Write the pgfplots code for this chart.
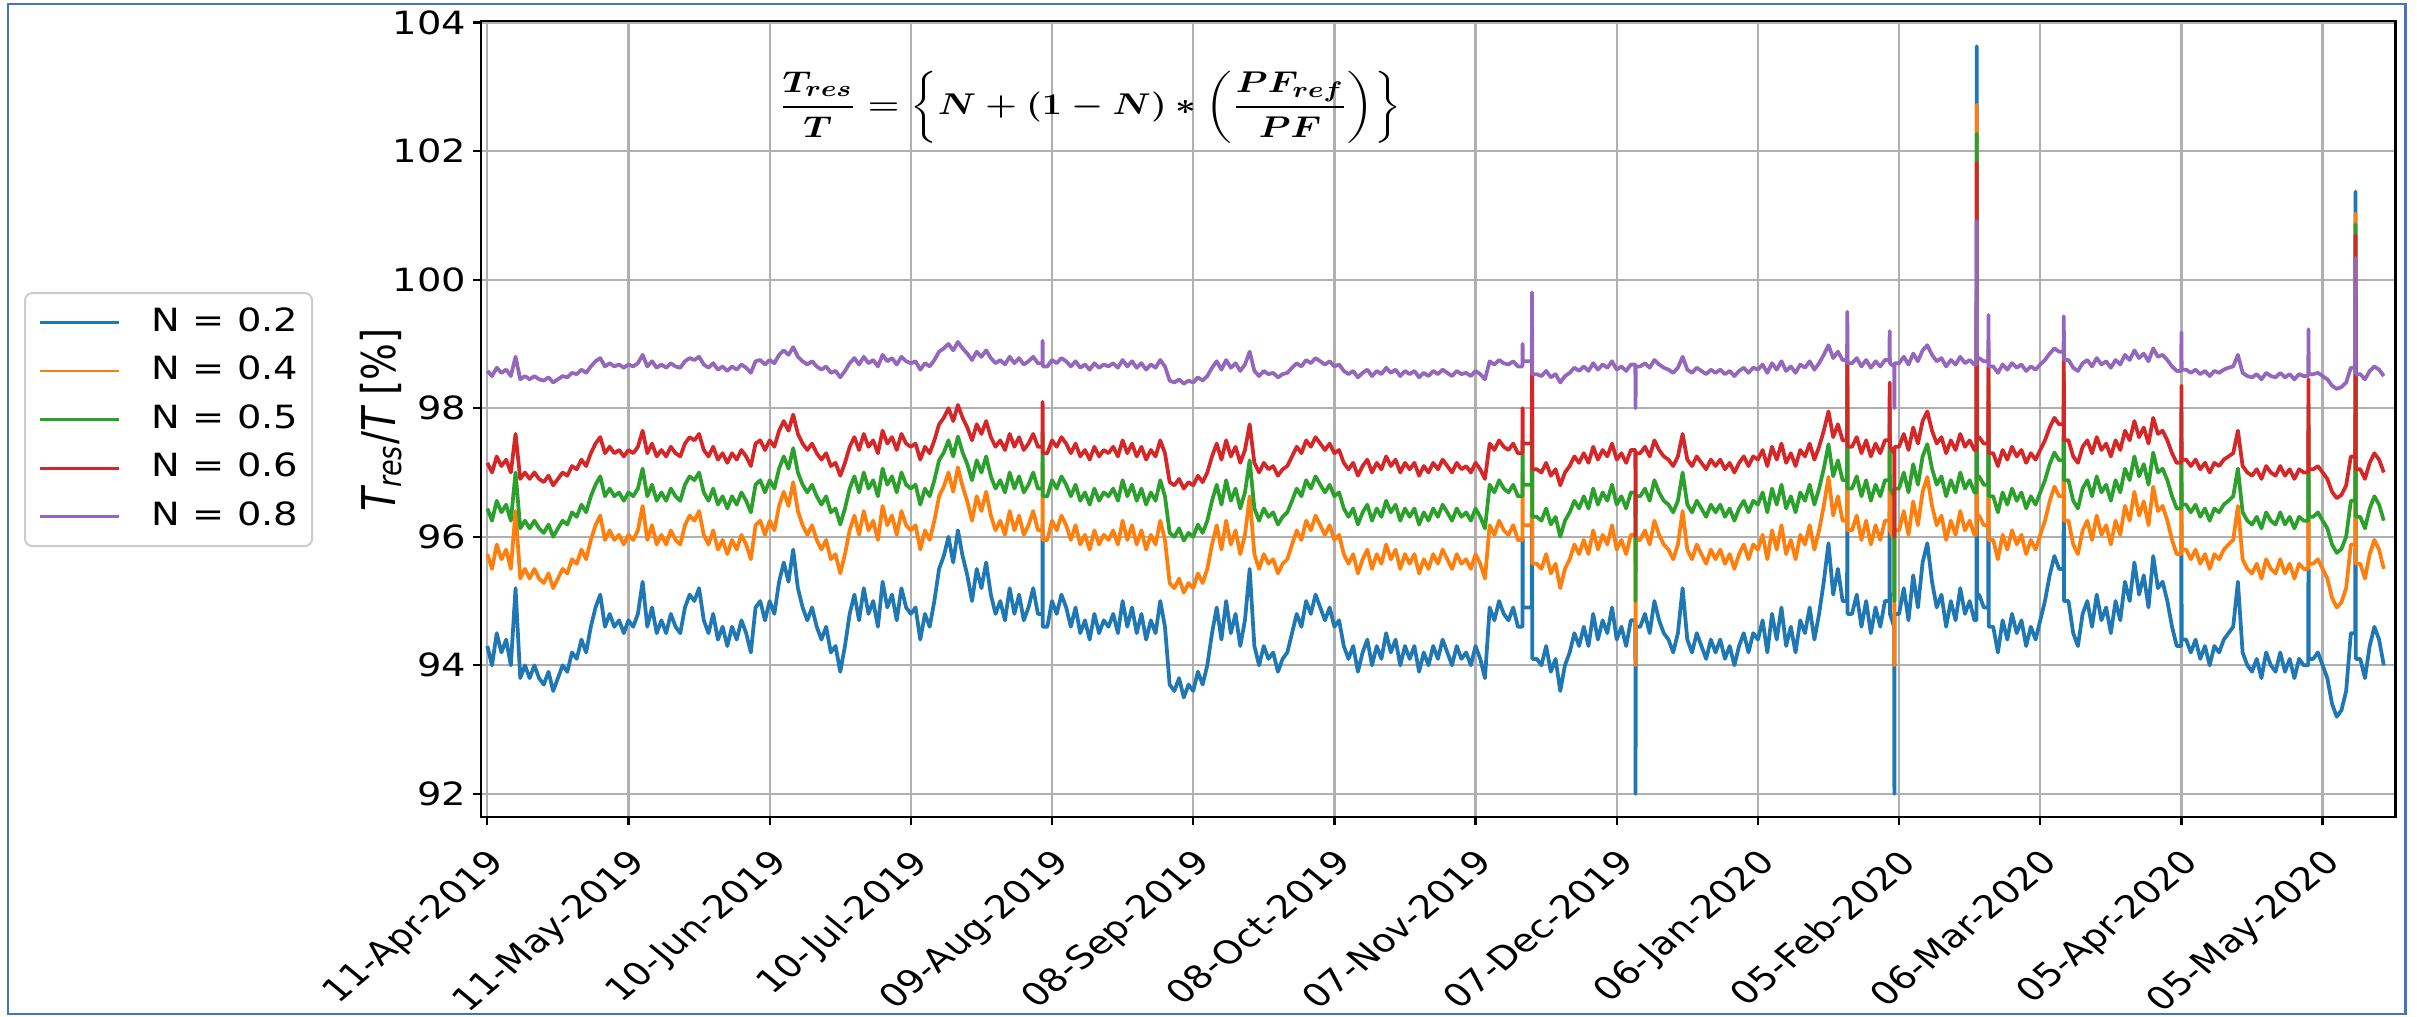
\documentclass[border=0pt]{standalone}
\usepackage{fontspec}
\setmainfont{DejaVu Sans}
\newfontfamily\stretchfont{DejaVu Sans}[FakeStretch=1.2]
\usepackage{amsmath}
\usepackage{pgfplots}
\pgfplotsset{compat=1.18}
\usepackage{pgfplotstable}
\definecolor{c0}{HTML}{1F77B4}
\definecolor{c1}{HTML}{FF7F0E}
\definecolor{c2}{HTML}{2CA02C}
\definecolor{c3}{HTML}{D62728}
\definecolor{c4}{HTML}{9467BD}
\definecolor{frameblue}{HTML}{4472C4}
\definecolor{gridgray}{HTML}{B0B0B0}
\newcommand{\formulatext}{{\boldmath$\displaystyle\frac{T_{res}}{T}=\left\{N+(1-N)\ast\left(\frac{PF_{ref}}{PF}\right)\right\}$}}

\pgfplotstableread{
d b o g r p
0 94.3 95.73 96.44 97.15 98.58
1 94.0 95.50 96.25 97.00 98.50
2 94.5 95.88 96.56 97.25 98.63
3 94.2 95.65 96.38 97.10 98.55
4 94.4 95.80 96.50 97.20 98.60
5 94.0 95.50 96.25 97.00 98.50
6 95.2 96.40 97.00 97.60 98.80
7 93.8 95.35 96.13 96.90 98.45
8 94.0 95.50 96.25 97.00 98.50
9 93.8 95.35 96.13 96.90 98.45
10 94.0 95.50 96.25 97.00 98.50
11 93.8 95.35 96.13 96.90 98.45
12 93.7 95.28 96.06 96.85 98.43
13 93.9 95.43 96.19 96.95 98.48
14 93.6 95.20 96.00 96.80 98.40
15 93.8 95.35 96.13 96.90 98.45
16 94.0 95.50 96.25 97.00 98.50
17 93.9 95.43 96.19 96.95 98.48
18 94.2 95.65 96.38 97.10 98.55
19 94.1 95.58 96.31 97.05 98.53
20 94.4 95.80 96.50 97.20 98.60
21 94.2 95.65 96.38 97.10 98.55
22 94.6 95.95 96.63 97.30 98.65
23 94.9 96.18 96.81 97.45 98.73
24 95.1 96.33 96.94 97.55 98.78
25 94.6 95.95 96.63 97.30 98.65
26 94.8 96.10 96.75 97.40 98.70
27 94.6 95.95 96.63 97.30 98.65
28 94.7 96.03 96.69 97.35 98.68
29 94.5 95.88 96.56 97.25 98.63
30 94.7 96.03 96.69 97.35 98.68
31 94.6 95.95 96.63 97.30 98.65
32 94.8 96.10 96.75 97.40 98.70
33 95.3 96.48 97.06 97.65 98.83
34 94.6 95.95 96.63 97.30 98.65
35 94.9 96.18 96.81 97.45 98.73
36 94.5 95.88 96.56 97.25 98.63
37 94.7 96.03 96.69 97.35 98.68
38 94.5 95.88 96.56 97.25 98.63
39 94.8 96.10 96.75 97.40 98.70
40 94.6 95.95 96.63 97.30 98.65
41 94.5 95.88 96.56 97.25 98.63
42 94.9 96.18 96.81 97.45 98.73
43 95.1 96.33 96.94 97.55 98.78
44 95.0 96.25 96.88 97.50 98.75
45 95.2 96.40 97.00 97.60 98.80
46 94.7 96.03 96.69 97.35 98.68
47 94.5 95.88 96.56 97.25 98.63
48 94.8 96.10 96.75 97.40 98.70
49 94.4 95.80 96.50 97.20 98.60
50 94.6 95.95 96.63 97.30 98.65
51 94.3 95.73 96.44 97.15 98.58
52 94.6 95.95 96.63 97.30 98.65
53 94.4 95.80 96.50 97.20 98.60
54 94.7 96.03 96.69 97.35 98.68
55 94.5 95.88 96.56 97.25 98.63
56 94.2 95.65 96.38 97.10 98.55
57 94.9 96.18 96.81 97.45 98.73
58 95.0 96.25 96.88 97.50 98.75
59 94.7 96.03 96.69 97.35 98.68
60 95.0 96.25 96.88 97.50 98.75
61 94.8 96.10 96.75 97.40 98.70
62 95.3 96.48 97.06 97.65 98.83
63 95.6 96.70 97.25 97.80 98.90
64 95.3 96.48 97.06 97.65 98.83
65 95.8 96.85 97.38 97.90 98.95
66 95.2 96.40 97.00 97.60 98.80
67 94.9 96.18 96.81 97.45 98.73
68 94.7 96.03 96.69 97.35 98.68
69 94.9 96.18 96.81 97.45 98.73
70 94.6 95.95 96.63 97.30 98.65
71 94.4 95.80 96.50 97.20 98.60
72 94.6 95.95 96.63 97.30 98.65
73 94.2 95.65 96.38 97.10 98.55
74 94.3 95.73 96.44 97.15 98.58
75 93.9 95.43 96.19 96.95 98.48
76 94.3 95.73 96.44 97.15 98.58
77 94.8 96.10 96.75 97.40 98.70
78 95.1 96.33 96.94 97.55 98.78
79 94.7 96.03 96.69 97.35 98.68
80 95.2 96.40 97.00 97.60 98.80
81 94.8 96.10 96.75 97.40 98.70
82 95.0 96.25 96.88 97.50 98.75
83 94.6 95.95 96.63 97.30 98.65
84 95.3 96.48 97.06 97.65 98.83
85 94.9 96.18 96.81 97.45 98.73
86 95.1 96.33 96.94 97.55 98.78
87 94.7 96.03 96.69 97.35 98.68
88 95.2 96.40 97.00 97.60 98.80
89 94.9 96.18 96.81 97.45 98.73
90 94.8 96.10 96.75 97.40 98.70
91 94.9 96.18 96.81 97.45 98.73
92 94.4 95.80 96.50 97.20 98.60
93 94.8 96.10 96.75 97.40 98.70
94 94.6 95.95 96.63 97.30 98.65
95 95.0 96.25 96.88 97.50 98.75
96 95.5 96.63 97.19 97.75 98.88
97 95.7 96.78 97.31 97.85 98.93
98 96.0 97.00 97.50 98.00 99.00
99 95.6 96.70 97.25 97.80 98.90
100 96.1 97.08 97.56 98.05 99.03
101 95.7 96.78 97.31 97.85 98.93
102 95.4 96.55 97.13 97.70 98.85
103 95.0 96.25 96.88 97.50 98.75
104 95.5 96.63 97.19 97.75 98.88
105 95.2 96.40 97.00 97.60 98.80
106 95.6 96.70 97.25 97.80 98.90
107 95.1 96.33 96.94 97.55 98.78
108 94.8 96.10 96.75 97.40 98.70
109 95.0 96.25 96.88 97.50 98.75
110 94.7 96.03 96.69 97.35 98.68
111 95.2 96.40 97.00 97.60 98.80
112 94.8 96.10 96.75 97.40 98.70
113 95.1 96.33 96.94 97.55 98.78
114 94.7 96.03 96.69 97.35 98.68
115 94.9 96.18 96.81 97.45 98.73
116 95.2 96.40 97.00 97.60 98.80
117 94.8 96.10 96.75 97.40 98.70
117.95 94.8 96.10 96.75 97.40 98.70
118 96.2 97.15 97.63 98.10 99.05
118.05 94.6 95.95 96.63 97.30 98.65
119 94.6 95.95 96.63 97.30 98.65
120 95.0 96.25 96.88 97.50 98.75
121 94.8 96.10 96.75 97.40 98.70
122 95.1 96.33 96.94 97.55 98.78
123 94.9 96.18 96.81 97.45 98.73
124 94.6 95.95 96.63 97.30 98.65
125 94.9 96.18 96.81 97.45 98.73
126 94.5 95.88 96.56 97.25 98.63
127 94.7 96.03 96.69 97.35 98.68
128 94.4 95.80 96.50 97.20 98.60
129 94.8 96.10 96.75 97.40 98.70
130 94.5 95.88 96.56 97.25 98.63
131 94.7 96.03 96.69 97.35 98.68
132 94.6 95.95 96.63 97.30 98.65
133 94.8 96.10 96.75 97.40 98.70
134 94.5 95.88 96.56 97.25 98.63
135 95.0 96.25 96.88 97.50 98.75
136 94.6 95.95 96.63 97.30 98.65
137 94.9 96.18 96.81 97.45 98.73
138 94.5 95.88 96.56 97.25 98.63
139 94.8 96.10 96.75 97.40 98.70
140 94.4 95.80 96.50 97.20 98.60
141 94.7 96.03 96.69 97.35 98.68
142 94.5 95.88 96.56 97.25 98.63
143 95.0 96.25 96.88 97.50 98.75
144 94.6 95.95 96.63 97.30 98.65
145 93.7 95.28 96.06 96.85 98.43
146 93.6 95.20 96.00 96.80 98.40
147 93.8 95.35 96.13 96.90 98.45
148 93.5 95.13 95.94 96.75 98.38
149 93.7 95.28 96.06 96.85 98.43
150 93.6 95.20 96.00 96.80 98.40
151 93.9 95.43 96.19 96.95 98.48
152 93.7 95.28 96.06 96.85 98.43
153 94.0 95.50 96.25 97.00 98.50
154 94.5 95.88 96.56 97.25 98.63
155 94.9 96.18 96.81 97.45 98.73
156 94.4 95.80 96.50 97.20 98.60
157 95.0 96.25 96.88 97.50 98.75
158 94.5 95.88 96.56 97.25 98.63
159 94.8 96.10 96.75 97.40 98.70
160 94.3 95.73 96.44 97.15 98.58
161 94.7 96.03 96.69 97.35 98.68
162 95.5 96.63 97.19 97.75 98.88
163 94.3 95.73 96.44 97.15 98.58
164 94.0 95.50 96.25 97.00 98.50
165 94.3 95.73 96.44 97.15 98.58
166 94.1 95.58 96.31 97.05 98.53
167 94.2 95.65 96.38 97.10 98.55
168 93.9 95.43 96.19 96.95 98.48
169 94.1 95.58 96.31 97.05 98.53
170 94.2 95.65 96.38 97.10 98.55
171 94.5 95.88 96.56 97.25 98.63
172 94.8 96.10 96.75 97.40 98.70
173 94.6 95.95 96.63 97.30 98.65
174 95.0 96.25 96.88 97.50 98.75
175 94.8 96.10 96.75 97.40 98.70
176 95.1 96.33 96.94 97.55 98.78
177 94.9 96.18 96.81 97.45 98.73
178 94.7 96.03 96.69 97.35 98.68
179 94.9 96.18 96.81 97.45 98.73
180 94.6 95.95 96.63 97.30 98.65
181 94.7 96.03 96.69 97.35 98.68
182 94.3 95.73 96.44 97.15 98.58
183 94.1 95.58 96.31 97.05 98.53
184 94.3 95.73 96.44 97.15 98.58
185 93.9 95.43 96.19 96.95 98.48
186 94.2 95.65 96.38 97.10 98.55
187 94.4 95.80 96.50 97.20 98.60
188 94.0 95.50 96.25 97.00 98.50
189 94.3 95.73 96.44 97.15 98.58
190 94.1 95.58 96.31 97.05 98.53
191 94.5 95.88 96.56 97.25 98.63
192 94.2 95.65 96.38 97.10 98.55
193 94.4 95.80 96.50 97.20 98.60
194 94.0 95.50 96.25 97.00 98.50
195 94.3 95.73 96.44 97.15 98.58
196 94.1 95.58 96.31 97.05 98.53
197 94.3 95.73 96.44 97.15 98.58
198 93.9 95.43 96.19 96.95 98.48
199 94.2 95.65 96.38 97.10 98.55
200 94.0 95.50 96.25 97.00 98.50
201 94.3 95.73 96.44 97.15 98.58
202 94.1 95.58 96.31 97.05 98.53
203 94.4 95.80 96.50 97.20 98.60
204 94.2 95.65 96.38 97.10 98.55
205 94.0 95.50 96.25 97.00 98.50
206 94.3 95.73 96.44 97.15 98.58
207 94.1 95.58 96.31 97.05 98.53
208 94.2 95.65 96.38 97.10 98.55
209 94.0 95.50 96.25 97.00 98.50
210 94.3 95.73 96.44 97.15 98.58
211 94.1 95.58 96.31 97.05 98.53
212 93.8 95.35 96.13 96.90 98.45
213 94.9 96.18 96.81 97.45 98.73
214 94.7 96.03 96.69 97.35 98.68
215 95.0 96.25 96.88 97.50 98.75
216 94.8 96.10 96.75 97.40 98.70
217 94.7 96.03 96.69 97.35 98.68
218 94.9 96.18 96.81 97.45 98.73
219 94.6 95.95 96.63 97.30 98.65
219.95 94.6 95.95 96.63 97.30 98.65
220 96.0 97.00 97.50 98.00 99.00
220.05 94.9 96.18 96.81 97.45 98.73
221 94.9 96.18 96.81 97.45 98.73
221.95 94.9 96.18 96.81 97.45 98.73
222 99.2 99.40 99.50 99.60 99.80
222.05 94.1 95.58 96.31 97.05 98.53
223 94.1 95.58 96.31 97.05 98.53
224 94.0 95.50 96.25 97.00 98.50
225 94.3 95.73 96.44 97.15 98.58
226 93.9 95.43 96.19 96.95 98.48
227 94.1 95.58 96.31 97.05 98.53
228 93.6 95.20 96.00 96.80 98.40
229 94.0 95.50 96.25 97.00 98.50
230 94.2 95.65 96.38 97.10 98.55
231 94.5 95.88 96.56 97.25 98.63
232 94.3 95.73 96.44 97.15 98.58
233 94.6 95.95 96.63 97.30 98.65
234 94.3 95.73 96.44 97.15 98.58
235 94.8 96.10 96.75 97.40 98.70
236 94.4 95.80 96.50 97.20 98.60
237 94.7 96.03 96.69 97.35 98.68
238 94.5 95.88 96.56 97.25 98.63
239 94.9 96.18 96.81 97.45 98.73
240 94.4 95.80 96.50 97.20 98.60
241 94.6 95.95 96.63 97.30 98.65
242 94.3 95.73 96.44 97.15 98.58
243 94.7 96.03 96.69 97.35 98.68
243.95 94.7 96.03 96.69 97.35 98.68
244 92.0 94.00 95.00 96.00 98.00
244.05 94.6 95.95 96.63 97.30 98.65
245 94.6 95.95 96.63 97.30 98.65
246 94.8 96.10 96.75 97.40 98.70
247 94.5 95.88 96.56 97.25 98.63
248 95.0 96.25 96.88 97.50 98.75
249 94.7 96.03 96.69 97.35 98.68
250 94.5 95.88 96.56 97.25 98.63
251 94.4 95.80 96.50 97.20 98.60
252 94.2 95.65 96.38 97.10 98.55
253 94.5 95.88 96.56 97.25 98.63
254 95.2 96.40 97.00 97.60 98.80
255 94.4 95.80 96.50 97.20 98.60
256 94.2 95.65 96.38 97.10 98.55
257 94.5 95.88 96.56 97.25 98.63
258 94.3 95.73 96.44 97.15 98.58
259 94.1 95.58 96.31 97.05 98.53
260 94.4 95.80 96.50 97.20 98.60
261 94.2 95.65 96.38 97.10 98.55
262 94.4 95.80 96.50 97.20 98.60
263 94.1 95.58 96.31 97.05 98.53
264 94.3 95.73 96.44 97.15 98.58
265 94.0 95.50 96.25 97.00 98.50
266 94.3 95.73 96.44 97.15 98.58
267 94.5 95.88 96.56 97.25 98.63
268 94.2 95.65 96.38 97.10 98.55
269 94.5 95.88 96.56 97.25 98.63
270 94.4 95.80 96.50 97.20 98.60
271 94.7 96.03 96.69 97.35 98.68
272 94.2 95.65 96.38 97.10 98.55
273 94.8 96.10 96.75 97.40 98.70
274 94.4 95.80 96.50 97.20 98.60
275 94.9 96.18 96.81 97.45 98.73
276 94.3 95.73 96.44 97.15 98.58
277 94.6 95.95 96.63 97.30 98.65
278 94.2 95.65 96.38 97.10 98.55
279 94.7 96.03 96.69 97.35 98.68
280 94.5 95.88 96.56 97.25 98.63
281 94.9 96.18 96.81 97.45 98.73
282 94.4 95.80 96.50 97.20 98.60
283 94.8 96.10 96.75 97.40 98.70
284 95.3 96.48 97.06 97.65 98.83
285 95.9 96.93 97.44 97.95 98.98
286 95.1 96.33 96.94 97.55 98.78
287 95.5 96.63 97.19 97.75 98.88
288 95.0 96.25 96.88 97.50 98.75
288.95 95.0 96.25 96.88 97.50 98.75
289 98.0 98.50 98.75 99.00 99.50
289.05 94.8 96.10 96.75 97.40 98.70
290 94.8 96.10 96.75 97.40 98.70
291 95.1 96.33 96.94 97.55 98.78
292 94.6 95.95 96.63 97.30 98.65
293 95.0 96.25 96.88 97.50 98.75
294 94.5 95.88 96.56 97.25 98.63
295 94.9 96.18 96.81 97.45 98.73
296 94.6 95.95 96.63 97.30 98.65
297 95.0 96.25 96.88 97.50 98.75
297.95 95.0 96.25 96.88 97.50 98.75
298 96.8 97.60 98.00 98.40 99.20
298.05 94.8 96.10 96.75 97.40 98.70
298.95 94.6 95.95 96.63 97.30 98.65
299 92.0 94.00 95.00 96.00 98.00
299.05 94.8 96.10 96.75 97.40 98.70
300 94.8 96.10 96.75 97.40 98.70
301 95.2 96.40 97.00 97.60 98.80
302 94.7 96.03 96.69 97.35 98.68
303 95.4 96.55 97.13 97.70 98.85
304 94.9 96.18 96.81 97.45 98.73
305 95.6 96.70 97.25 97.80 98.90
306 95.9 96.93 97.44 97.95 98.98
307 95.3 96.48 97.06 97.65 98.83
308 94.9 96.18 96.81 97.45 98.73
309 95.1 96.33 96.94 97.55 98.78
310 94.6 95.95 96.63 97.30 98.65
311 95.0 96.25 96.88 97.50 98.75
312 94.7 96.03 96.69 97.35 98.68
313 95.2 96.40 97.00 97.60 98.80
314 94.8 96.10 96.75 97.40 98.70
315 95.0 96.25 96.88 97.50 98.75
316 94.7 96.03 96.69 97.35 98.68
316.45 94.7 96.03 96.69 97.35 98.68
316.5 103.63 102.72 102.27 101.82 100.91
316.55 95.1 96.33 96.94 97.55 98.78
317 95.1 96.33 96.94 97.55 98.78
318 94.9 96.18 96.81 97.45 98.73
318.95 94.9 96.18 96.81 97.45 98.73
319 97.8 98.35 98.63 98.90 99.45
319.05 94.6 95.95 96.63 97.30 98.65
320 94.6 95.95 96.63 97.30 98.65
321 94.2 95.65 96.38 97.10 98.55
322 94.7 96.03 96.69 97.35 98.68
323 94.4 95.80 96.50 97.20 98.60
324 94.8 96.10 96.75 97.40 98.70
325 94.5 95.88 96.56 97.25 98.63
326 94.7 96.03 96.69 97.35 98.68
327 94.3 95.73 96.44 97.15 98.58
328 94.6 95.95 96.63 97.30 98.65
329 94.4 95.80 96.50 97.20 98.60
330 94.7 96.03 96.69 97.35 98.68
331 95.0 96.25 96.88 97.50 98.75
332 95.4 96.55 97.13 97.70 98.85
333 95.7 96.78 97.31 97.85 98.93
334 95.5 96.63 97.19 97.75 98.88
334.95 95.5 96.63 97.19 97.75 98.88
335 97.7 98.28 98.56 98.85 99.43
335.05 95.0 96.25 96.88 97.50 98.75
336 95.0 96.25 96.88 97.50 98.75
337 94.5 95.88 96.56 97.25 98.63
338 94.3 95.73 96.44 97.15 98.58
339 94.8 96.10 96.75 97.40 98.70
340 95.0 96.25 96.88 97.50 98.75
341 94.6 95.95 96.63 97.30 98.65
342 95.1 96.33 96.94 97.55 98.78
343 94.7 96.03 96.69 97.35 98.68
344 94.9 96.18 96.81 97.45 98.73
345 94.5 95.88 96.56 97.25 98.63
346 95.0 96.25 96.88 97.50 98.75
347 94.7 96.03 96.69 97.35 98.68
348 95.3 96.48 97.06 97.65 98.83
349 95.0 96.25 96.88 97.50 98.75
350 95.6 96.70 97.25 97.80 98.90
351 95.1 96.33 96.94 97.55 98.78
352 95.4 96.55 97.13 97.70 98.85
353 94.9 96.18 96.81 97.45 98.73
354 95.7 96.78 97.31 97.85 98.93
355 95.2 96.40 97.00 97.60 98.80
356 95.3 96.48 97.06 97.65 98.83
357 95.0 96.25 96.88 97.50 98.75
358 94.6 95.95 96.63 97.30 98.65
359 94.3 95.73 96.44 97.15 98.58
359.95 94.3 95.73 96.44 97.15 98.58
360 96.7 97.53 97.94 98.35 99.18
360.05 94.4 95.80 96.50 97.20 98.60
361 94.4 95.80 96.50 97.20 98.60
362 94.2 95.65 96.38 97.10 98.55
363 94.4 95.80 96.50 97.20 98.60
364 94.1 95.58 96.31 97.05 98.53
365 94.3 95.73 96.44 97.15 98.58
366 94.0 95.50 96.25 97.00 98.50
367 94.3 95.73 96.44 97.15 98.58
368 94.2 95.65 96.38 97.10 98.55
369 94.4 95.80 96.50 97.20 98.60
370 94.5 95.88 96.56 97.25 98.63
371 94.6 95.95 96.63 97.30 98.65
372 95.3 96.48 97.06 97.65 98.83
373 94.2 95.65 96.38 97.10 98.55
374 94.0 95.50 96.25 97.00 98.50
375 93.9 95.43 96.19 96.95 98.48
376 94.1 95.58 96.31 97.05 98.53
377 93.8 95.35 96.13 96.90 98.45
378 94.2 95.65 96.38 97.10 98.55
379 94.0 95.50 96.25 97.00 98.50
380 93.9 95.43 96.19 96.95 98.48
381 94.2 95.65 96.38 97.10 98.55
382 93.9 95.43 96.19 96.95 98.48
383 94.1 95.58 96.31 97.05 98.53
384 93.8 95.35 96.13 96.90 98.45
385 94.1 95.58 96.31 97.05 98.53
386 94.0 95.50 96.25 97.00 98.50
386.95 94.0 95.50 96.25 97.00 98.50
387 96.9 97.68 98.06 98.45 99.23
387.05 94.1 95.58 96.31 97.05 98.53
388 94.1 95.58 96.31 97.05 98.53
389 94.2 95.65 96.38 97.10 98.55
390 94.0 95.50 96.25 97.00 98.50
391 93.8 95.35 96.13 96.90 98.45
392 93.4 95.05 95.88 96.70 98.35
393 93.2 94.90 95.75 96.60 98.30
394 93.3 94.98 95.81 96.65 98.33
395 93.6 95.20 96.00 96.80 98.40
396 94.5 95.88 96.56 97.25 98.63
396.95 94.5 95.88 96.56 97.25 98.63
397 101.37 101.03 100.86 100.69 100.34
397.05 94.1 95.58 96.31 97.05 98.53
398 94.1 95.58 96.31 97.05 98.53
399 93.8 95.35 96.13 96.90 98.45
400 94.3 95.73 96.44 97.15 98.58
401 94.6 95.95 96.63 97.30 98.65
402 94.4 95.80 96.50 97.20 98.60
403 94.0 95.50 96.25 97.00 98.50
}\tres

\begin{document}
\begin{tikzpicture}[x=0.4pt,y=0.4pt]
\useasboundingbox (0,0) rectangle (2417,1017);
\draw[frameblue, line width=0.9pt] (8,3) rectangle (2405.5,1013);
\begin{axis}[
  at={(192.4pt,80pt)}, anchor=south west,
  scale only axis, width=765.8pt, height=318.4pt,
  xmin=-1.34, xmax=405.5, ymin=91.64, ymax=104.025,
  xtick={0,30,...,390},
  xticklabels={11-Apr-2019,11-May-2019,10-Jun-2019,10-Jul-2019,09-Aug-2019,08-Sep-2019,08-Oct-2019,07-Nov-2019,07-Dec-2019,06-Jan-2020,05-Feb-2020,06-Mar-2020,05-Apr-2020,05-May-2020},
  ytick={92,94,...,104},
  xtick pos=bottom, ytick pos=left,
  tick align=outside,
  major tick length=3.1pt,
  tick style={black, line width=0.9pt},
  axis line style={black, line width=1pt},
  grid=major,
  major grid style={gridgray, line width=0.9pt},
  /pgf/number format/assume math mode=true,
  yticklabel style={font=\fontsize{12.8}{15}\stretchfont, inner sep=0pt, xshift=-2.7pt},
  xticklabel style={font=\fontsize{12.8}{15}\selectfont, inner sep=0pt, xshift=-0.6pt, yshift=-8.8pt, anchor=north east, xscale=1.2, rotate=45},
  ylabel={{\itshape T\textsubscript{res}}/{\itshape T} [\%]},
  ylabel style={at={(axis description cs:-0.0522,0.4987)}, anchor=center, font=\fontsize{15.5}{18}\selectfont, rotate=-90, xscale=1.2, rotate=90},
  legend style={at={(axis description cs:-0.2387,0.6595)}, anchor=north west, draw=black!20, line width=0.8pt, rounded corners=3pt, fill=white, inner xsep=5.6pt, inner ysep=5.9pt, row sep=7.7pt, font=\fontsize{12.8}{15}\stretchfont, nodes={inner sep=0pt, text height=9.33pt, text depth=2.4pt}, /tikz/every odd column/.append style={column sep=12.4pt}},
  legend cell align=left,
  legend image code/.code={\draw[#1, line width=1.1pt] (0pt,0pt) -- (31.6pt,0pt);},
]
\addplot[c0, line width=1.5pt, line join=round, mark=none] table[x=d, y=b] {\tres};
\addlegendentry{N = 0.2}
\addplot[c1, line width=1.5pt, line join=round, mark=none] table[x=d, y=o] {\tres};
\addlegendentry{N = 0.4}
\addplot[c2, line width=1.5pt, line join=round, mark=none] table[x=d, y=g] {\tres};
\addlegendentry{N = 0.5}
\addplot[c3, line width=1.5pt, line join=round, mark=none] table[x=d, y=r] {\tres};
\addlegendentry{N = 0.6}
\addplot[c4, line width=1.5pt, line join=round, mark=none] table[x=d, y=p] {\tres};
\addlegendentry{N = 0.8}
\end{axis}
\node[xscale=1.2, inner sep=0pt, font=\fontsize{13}{15}\selectfont] at (1090,910) {\formulatext};
\end{tikzpicture}
\end{document}
